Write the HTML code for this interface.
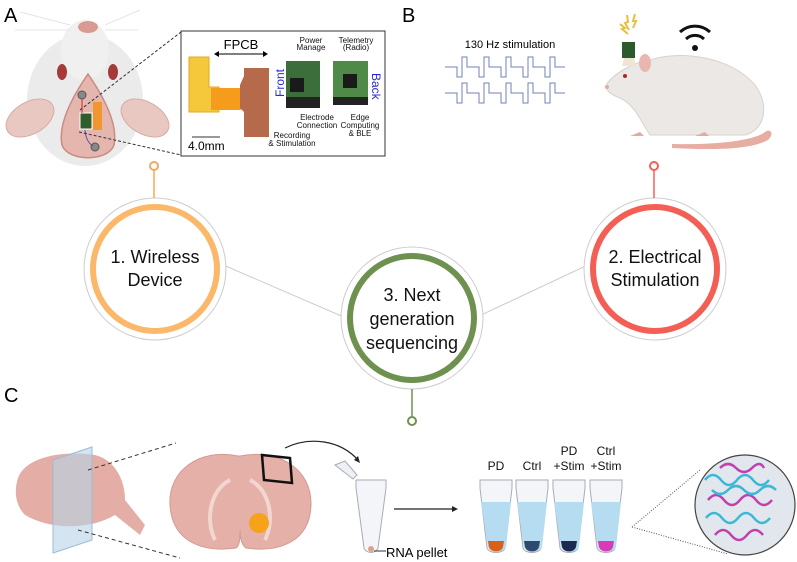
<!DOCTYPE html>
<html><head><meta charset="utf-8"><style>
html,body{margin:0;padding:0;background:#fff;}
svg{display:block;font-family:"Liberation Sans",Arial,sans-serif;}
</style></head><body>
<svg width="797" height="562" viewBox="0 0 797 562" xmlns="http://www.w3.org/2000/svg">
<text x="4" y="22" font-size="20">A</text>
<text x="402" y="22" font-size="20">B</text>
<text x="4" y="402" font-size="20">C</text>

<!-- ===== A: rat head ===== -->
<g>
  <ellipse cx="85" cy="100" rx="58" ry="66" fill="#ecebeb"/>
  <ellipse cx="85" cy="50" rx="24" ry="30" fill="#f1f0f0"/>
  <ellipse cx="88" cy="27" rx="10" ry="6" fill="#d99a92"/>
  <path d="M70 25 L20 12 M70 30 L15 30 M105 25 L140 10 M105 30 L138 30" stroke="#ddd" stroke-width="0.8"/>
  <ellipse cx="30" cy="118" rx="26" ry="16" transform="rotate(-30 30 118)" fill="#e9c8c2" stroke="#d7aba4"/>
  <ellipse cx="145" cy="118" rx="26" ry="16" transform="rotate(30 145 118)" fill="#e9c8c2" stroke="#d7aba4"/>
  <ellipse cx="62" cy="72" rx="5" ry="8" fill="#a53a3a"/>
  <ellipse cx="113" cy="72" rx="5" ry="8" fill="#a53a3a"/>
  <path d="M88 74 C70 100 58 125 62 145 C68 162 108 162 114 145 C118 125 106 100 88 74 Z" fill="#e4b6ad" stroke="#c98a82" stroke-width="1.5"/>
  <circle cx="82" cy="95" r="4" fill="#888" stroke="#555"/>
  <circle cx="95" cy="147" r="4" fill="#888" stroke="#555"/>
  <rect x="93" y="102" width="9" height="28" fill="#f0962e"/>
  <rect x="80" y="113" width="12" height="16" fill="#2f5e2c" stroke="#fff"/>
  <path d="M82 99 L82 113" stroke="#d23" stroke-width="1"/>
  <path d="M85 130 Q86 142 93 146" stroke="#5a4cb0" fill="none"/>
</g>
<line x1="80" y1="110" x2="181" y2="32" stroke="#333" stroke-dasharray="3,2"/>
<line x1="79" y1="132" x2="181" y2="155" stroke="#333" stroke-dasharray="3,2"/>
<rect x="181" y="31" width="204" height="125" fill="#fff" stroke="#333" stroke-width="1"/>
<text x="241" y="49" font-size="13" text-anchor="middle">FPCB</text>
<line x1="216" y1="54" x2="266" y2="54" stroke="#000"/>
<path d="M214 54 l5 -3 v6z M268 54 l-5 -3 v6z" fill="#000"/>
<path d="M189 57 h20 v30 h10 v25 h-30 z" fill="#f4c83a" stroke="#e6a820"/>
<rect x="211" y="88" width="30" height="22" fill="#f59c1c"/>
<path d="M240 85 L244 76 L244 68 H269 V137 H244 V112 L240 108 Z" fill="#b56a4c"/>
<line x1="192" y1="137" x2="220" y2="137" stroke="#333"/>
<text x="188" y="150" font-size="12">4.0mm</text>
<text x="284" y="97" font-size="12" fill="#2a2ad0" transform="rotate(-90 284 97)">Front</text>
<rect x="286" y="61" width="34" height="47" fill="#3b6e3a"/>
<rect x="290" y="78" width="14" height="14" fill="#1a1a1a"/>
<rect x="286" y="97" width="34" height="11" fill="#222"/>
<rect x="333" y="61" width="35" height="44" fill="#4f8a48"/>
<rect x="343" y="74" width="14" height="14" fill="#1a1a1a"/>
<rect x="333" y="97" width="35" height="8" fill="#222"/>
<text x="372" y="73" font-size="12" fill="#2a2ad0" transform="rotate(90 372 73)">Back</text>
<g font-size="8" text-anchor="middle" fill="#111">
<text x="311" y="43">Power</text><text x="311" y="50">Manage</text>
<text x="356" y="43">Telemetry</text><text x="356" y="50">(Radio)</text>
<text x="317" y="120">Electrode</text><text x="317" y="128">Connection</text>
<text x="292" y="138">Recording</text><text x="292" y="146">&amp; Stimulation</text>
<text x="360" y="120">Edge</text><text x="360" y="128">Computing</text><text x="360" y="136">&amp; BLE</text>
</g>

<!-- ===== B ===== -->
<text x="510" y="48" font-size="11" text-anchor="middle">130 Hz stimulation</text>
<g fill="none" stroke="#7280b8" stroke-width="1">
<path d="M445 67 h12 v10 h5 v-20 h5 v10 h12 v10 h5 v-20 h5 v10 h12 v10 h5 v-20 h5 v10 h12 v10 h5 v-20 h5 v10 h12 v10 h5 v-20 h5 v10 h10"/>
<path d="M445 93 h12 v10 h5 v-20 h5 v10 h12 v10 h5 v-20 h5 v10 h12 v10 h5 v-20 h5 v10 h12 v10 h5 v-20 h5 v10 h12 v10 h5 v-20 h5 v10 h10"/>
</g>
<path d="M672 148 C710 150 750 150 768 140 C775 133 770 128 765 132 C755 140 720 145 672 144 Z" fill="#e7aca2"/>
<path d="M606 85 C615 72 635 62 650 60 C680 50 730 56 755 85 C770 105 765 130 745 135 L650 135 C640 120 635 105 620 98 C612 95 606 92 606 85 Z" fill="#ebe8e6" stroke="#d8d2cf"/>
<ellipse cx="645" cy="63" rx="6" ry="9" fill="#e8b8b0"/>
<circle cx="625" cy="76" r="2" fill="#a52a2a"/>
<circle cx="607" cy="87" r="2" fill="#e6a9a0"/>
<path d="M640 132 l-10 4 h14z M705 132 l-10 4 h14z" fill="#e6a9a0"/>
<rect x="622" y="42" width="13" height="16" fill="#2d5a2c"/>
<path d="M624 58 h10 l2 8 h-14z" fill="#efe5d5"/>
<g stroke="#e8c040" stroke-width="2" fill="none">
<path d="M620 24 l5 4 -3 1 6 5"/><path d="M627 15 l1 7 -3 1 4 7"/><path d="M635 14 l-2 7 3 0 -3 7"/></g>
<g fill="none" stroke="#111" stroke-width="3">
<path d="M680 32 a22 22 0 0 1 30 0"/><path d="M686 39 a13 13 0 0 1 18 0"/></g>
<circle cx="695" cy="48" r="3" fill="#111"/>

<!-- ===== Center diagram ===== -->
<g fill="none">
<line x1="221" y1="264" x2="346" y2="318" stroke="#ccc"/>
<line x1="477" y1="317" x2="592" y2="263" stroke="#ccc"/>
<circle cx="155" cy="269" r="71" fill="#fff" stroke="#ccc"/>
<circle cx="155" cy="269" r="62" stroke="#fbb86a" stroke-width="6"/>
<line x1="154" y1="170" x2="154" y2="198" stroke="#f5a85a" stroke-width="1.5"/>
<circle cx="154" cy="166" r="4" stroke="#f5a85a" stroke-width="2" fill="#fff"/>
<circle cx="655" cy="269" r="71" fill="#fff" stroke="#ccc"/>
<circle cx="655" cy="269" r="62" stroke="#f45f55" stroke-width="6"/>
<line x1="654" y1="170" x2="654" y2="198" stroke="#f45f55" stroke-width="1.5"/>
<circle cx="654" cy="166" r="4" stroke="#f45f55" stroke-width="2" fill="#fff"/>
<circle cx="412" cy="318" r="71" fill="#fff" stroke="#ccc"/>
<circle cx="412" cy="318" r="62" stroke="#6e9150" stroke-width="6"/>
<line x1="412" y1="389" x2="412" y2="416" stroke="#6e9150" stroke-width="1.5"/>
<circle cx="412" cy="421" r="4" stroke="#6e9150" stroke-width="2" fill="#fff"/>
</g>
<g font-size="18" text-anchor="middle" fill="#111">
<text x="155" y="263">1. Wireless</text><text x="155" y="286">Device</text>
<text x="655" y="263">2. Electrical</text><text x="655" y="286">Stimulation</text>
<text x="412" y="301">3. Next</text><text x="412" y="325">generation</text><text x="412" y="349">sequencing</text>
</g>

<!-- ===== C ===== -->
<path d="M18 478 C25 458 60 450 95 455 C115 460 125 480 125 500 L145 525 L140 535 L115 515 C90 530 50 530 25 515 C15 505 14 490 18 478 Z" fill="#e4aea6"/>
<path d="M53 460 L92 447 L92 540 L53 553 Z" fill="#b8d4e8" fill-opacity="0.6" stroke="#9cbcd6"/>
<line x1="88" y1="470" x2="176" y2="443" stroke="#333" stroke-dasharray="4,3"/>
<line x1="78" y1="530" x2="180" y2="558" stroke="#333" stroke-dasharray="4,3"/>
<path d="M238 456 C200 448 168 470 170 505 C172 540 200 553 236 548 C240 545 240 538 240 530 C240 538 242 545 246 548 C282 553 310 540 311 505 C312 470 280 448 240 456 Z" fill="#e4b0a8" stroke="#d29a92"/>
<path d="M230 480 C210 490 205 520 215 540 M250 480 C270 490 275 520 265 540" stroke="#f2d6d0" stroke-width="4" fill="none"/>
<circle cx="259" cy="523" r="10" fill="#f7a21b"/>
<path d="M262 455 L290 458 L292 483 L264 480 Z" fill="none" stroke="#111" stroke-width="2.5"/>
<path d="M285 448 C310 436 340 440 358 460" fill="none" stroke="#222" stroke-width="1.2"/>
<path d="M360 463 l-6 -3 4 -4z" fill="#222"/>
<path d="M356 480 h30 v8 l-8 60 c-2 6 -12 6 -14 0 l-8 -60 z" fill="#f3f5f8" stroke="#aab"/>
<path d="M335 465 l10 -4 12 14 -4 4z" fill="#eef0f3" stroke="#aab"/>
<circle cx="371" cy="549" r="3" fill="#e0a090"/>
<line x1="374" y1="551" x2="386" y2="551" stroke="#333"/>
<text x="386" y="557" font-size="13">RNA pellet</text>
<line x1="394" y1="509" x2="454" y2="509" stroke="#222" stroke-width="1.2"/>
<path d="M458 509 l-6 -3 v6z" fill="#222"/>
<g stroke="#aab">
<path d="M480 480 h32 v8 l-7 60 c-2 6 -16 6 -18 0 l-7 -60 z" fill="#f3f5f8"/>
<path d="M516 480 h32 v8 l-7 60 c-2 6 -16 6 -18 0 l-7 -60 z" fill="#f3f5f8"/>
<path d="M553 480 h32 v8 l-7 60 c-2 6 -16 6 -18 0 l-7 -60 z" fill="#f3f5f8"/>
<path d="M590 480 h32 v8 l-7 60 c-2 6 -16 6 -18 0 l-7 -60 z" fill="#f3f5f8"/>
</g>
<g fill="#b5dcf0">
<path d="M481 502 h30 l-5 45 c-2 6 -16 6 -18 0z"/>
<path d="M517 502 h30 l-5 45 c-2 6 -16 6 -18 0z"/>
<path d="M554 502 h30 l-5 45 c-2 6 -16 6 -18 0z"/>
<path d="M591 502 h30 l-5 45 c-2 6 -16 6 -18 0z"/>
</g>
<path d="M488 541 h16 l-1 6 c-2 6 -12 6 -14 0z" fill="#d9601a"/>
<path d="M524 541 h16 l-1 6 c-2 6 -12 6 -14 0z" fill="#2d4a6e"/>
<path d="M561 541 h16 l-1 6 c-2 6 -12 6 -14 0z" fill="#1c2a50"/>
<path d="M598 541 h16 l-1 6 c-2 6 -12 6 -14 0z" fill="#d63cb8"/>
<g font-size="12" text-anchor="middle" fill="#111">
<text x="496" y="470">PD</text><text x="532" y="470">Ctrl</text>
<text x="569" y="455">PD</text><text x="569" y="470">+Stim</text>
<text x="606" y="455">Ctrl</text><text x="606" y="470">+Stim</text>
</g>
<line x1="632" y1="527" x2="700" y2="470" stroke="#555" stroke-dasharray="1,1.5"/>
<line x1="632" y1="527" x2="728" y2="554" stroke="#555" stroke-dasharray="1,1.5"/>
<circle cx="745" cy="505" r="50" fill="#e2e7ee" stroke="#444" stroke-width="1.2"/>
<g fill="none" stroke-width="2.5">
<path d="M705 480 q8 -10 16 0 t16 0 t16 0 t16 0" stroke="#3bb8d8"/>
<path d="M708 500 q8 -10 16 0 t16 0 t16 0 t16 0" stroke="#c040b0"/>
<path d="M706 518 q8 -10 16 0 t16 0 t16 0 t16 0" stroke="#3bb8d8"/>
<path d="M715 535 q8 -10 16 0 t16 0 t16 0" stroke="#c040b0"/>
<path d="M720 468 q8 -8 16 0 t16 0 t12 0" stroke="#c040b0"/>
<path d="M712 490 q8 8 16 0 t16 0 t16 0 t16 0" stroke="#3bb8d8"/>
</g>
</svg>
</body></html>
